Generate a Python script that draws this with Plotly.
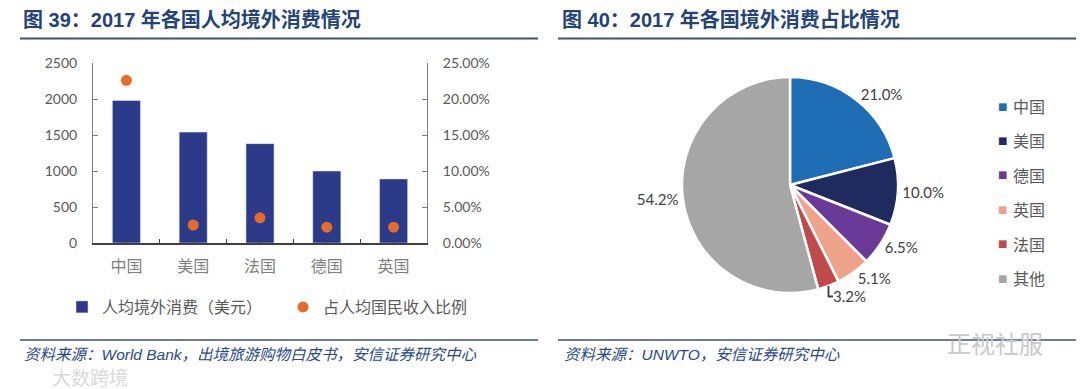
import plotly.graph_objects as go

W, H = 1080, 389

# ---- data: left chart ----
countries = ["中国", "美国", "法国", "德国", "英国"]
spend_usd = [1980, 1540, 1380, 1000, 890]
share_income = [0.226, 0.025, 0.035, 0.022, 0.022]
bar_name = "人均境外消费（美元）"
dot_name = "占人均国民收入比例"
y_ticks = [0, 500, 1000, 1500, 2000, 2500]
y2_ticks = [0, 0.05, 0.10, 0.15, 0.20, 0.25]

# ---- data: right chart ----
pie_labels = ["中国", "美国", "德国", "英国", "法国", "其他"]
pie_values = [21.0, 10.0, 6.5, 5.1, 3.2, 54.2]
pie_colors = ["#1F6EB5", "#1F2A5E", "#6B3A98", "#EFA38A", "#C04B4B", "#A6A6A6"]

# ---- texts ----
title_left = "图 39：2017 年各国人均境外消费情况"
title_right = "图 40：2017 年各国境外消费占比情况"
source_left = "资料来源：World Bank，出境旅游购物白皮书，安信证券研究中心"
source_right = "资料来源：UNWTO，安信证券研究中心"

BAR_COLOR = "#2C3A8A"
DOT_COLOR = "#E46C28"
TITLE_COLOR = "#23437A"
SRC_COLOR = "#264A8A"
RULE_COLOR = "#3E5078"
CJK = "Noto Sans CJK SC"
NUM = "Lato, 'Noto Sans CJK SC'"


def px(x):
    return x / W


def py(y):
    return 1 - y / H


xs = list(range(len(countries)))
tickvals = [i * 0.5 - 0.5 for i in range(2 * len(countries) + 1)]
ticktext = [countries[int(v)] if float(v).is_integer() else "" for v in tickvals]

fig = go.Figure()
fig.add_trace(go.Bar(
    x=xs, y=spend_usd, name=bar_name, marker_color=BAR_COLOR, width=0.42,
    legend="legend", xaxis="x", yaxis="y",
))
fig.add_trace(go.Scatter(
    x=xs, y=share_income, name=dot_name, mode="markers",
    marker=dict(color=DOT_COLOR, size=11), legend="legend2",
    xaxis="x", yaxis="y2",
))
fig.add_trace(go.Pie(
    labels=pie_labels, values=pie_values, sort=False, direction="clockwise",
    rotation=0, marker=dict(colors=pie_colors, line=dict(color="white", width=2.5)),
    texttemplate="%{value:.1f}%", textposition="outside",
    textfont=dict(size=15, color="#404040", family=NUM),
    domain=dict(x=[px(682), px(898)], y=[py(293), py(77)]),
    showlegend=False,
))

axis_font = dict(size=14, color="#595959", family=NUM)
TFONT = "'Liberation Sans', 'Noto Sans CJK SC'"

annotations = [
    dict(text=f"<b>{title_left}</b>", x=px(21), y=py(19), xanchor="left", yanchor="middle",
         font=dict(size=20, color=TITLE_COLOR, family=TFONT)),
    dict(text=f"<b>{title_right}</b>", x=px(560), y=py(19), xanchor="left", yanchor="middle",
         font=dict(size=20, color=TITLE_COLOR, family=TFONT)),
    dict(text=f"<i>{source_left}</i>", x=px(22), y=py(354), xanchor="left", yanchor="middle",
         font=dict(size=15.5, color=SRC_COLOR, family=TFONT)),
    dict(text=f"<i>{source_right}</i>", x=px(562), y=py(354), xanchor="left", yanchor="middle",
         font=dict(size=15.5, color=SRC_COLOR, family=TFONT)),
    dict(text="大数跨境", x=px(50), y=py(376), xanchor="left", yanchor="middle",
         font=dict(size=19, color="#D9D9D9", family=CJK)),
    dict(text="正视社服", x=px(945), y=py(342), xanchor="left", yanchor="middle",
         font=dict(size=24, color="#C9C9C9", family=CJK)),
]

# pie legend (square + label), spaced like the reference
for i, (lab, col) in enumerate(zip(pie_labels, pie_colors)):
    yy = 106 + i * 34.4
    annotations.append(dict(text="■", x=px(1002), y=py(yy), xanchor="center", yanchor="middle",
                            font=dict(size=10, color=col, family="DejaVu Sans")))
    annotations.append(dict(text=lab, x=px(1011), y=py(yy), xanchor="left", yanchor="middle",
                            font=dict(size=16, color="#595959", family=CJK)))

for a in annotations:
    a.update(xref="paper", yref="paper", showarrow=False)

shapes = []
for x0, x1 in [(20, 538), (558, 1076)]:
    shapes.append(dict(type="line", xref="paper", yref="paper", x0=px(x0), x1=px(x1),
                       y0=py(38.5), y1=py(38.5), line=dict(color=RULE_COLOR, width=2)))
    shapes.append(dict(type="line", xref="paper", yref="paper", x0=px(x0), x1=px(x1),
                       y0=py(340), y1=py(340), line=dict(color=RULE_COLOR, width=1.5)))

fig.update_layout(
    width=W, height=H, margin=dict(l=0, r=0, t=0, b=0, autoexpand=False),
    paper_bgcolor="white", plot_bgcolor="white",
    font=dict(family=NUM, color="#595959"),
    xaxis=dict(domain=[px(93), px(427)], range=[-0.5, len(countries) - 0.5],
               tickmode="array", tickvals=tickvals, ticktext=ticktext,
               ticks="inside", ticklen=4, tickcolor="#404040", tickwidth=1,
               showline=True, linecolor="#404040", linewidth=1.5,
               showgrid=False, zeroline=False,
               tickfont=dict(size=16, color="#7F7F7F", family=CJK), ticklabelstandoff=8),
    yaxis=dict(domain=[py(243), py(63)], range=[0, 2500], tickmode="array", tickvals=y_ticks,
               ticks="inside", ticklen=5, tickcolor="#7F7F7F", showline=True,
               linecolor="#7F7F7F", linewidth=1, showgrid=False, zeroline=False,
               tickfont=axis_font, ticklabelstandoff=12),
    yaxis2=dict(overlaying="y", side="right", range=[0, 0.25], tickmode="array",
                tickvals=y2_ticks, tickformat=".2%", ticks="inside", ticklen=5,
                tickcolor="#7F7F7F", showline=True, linecolor="#7F7F7F", linewidth=1,
                showgrid=False, zeroline=False, tickfont=axis_font, ticklabelstandoff=12,
                anchor="x"),
    legend=dict(x=px(62), y=py(307), xanchor="left", yanchor="middle", orientation="h",
                font=dict(size=16, color="#595959", family=CJK), bgcolor="rgba(0,0,0,0)",
                itemwidth=30),
    legend2=dict(x=px(283), y=py(307), xanchor="left", yanchor="middle", orientation="h",
                 font=dict(size=16, color="#595959", family=CJK), bgcolor="rgba(0,0,0,0)",
                 itemwidth=30),
    annotations=annotations, shapes=shapes,
    bargap=0.5, showlegend=True,
)

fig.write_html(
    "out.html",
    config={"responsive": False, "displayModeBar": False},
    post_script="document.body.style.margin='0';document.body.style.overflow='hidden';",
)
